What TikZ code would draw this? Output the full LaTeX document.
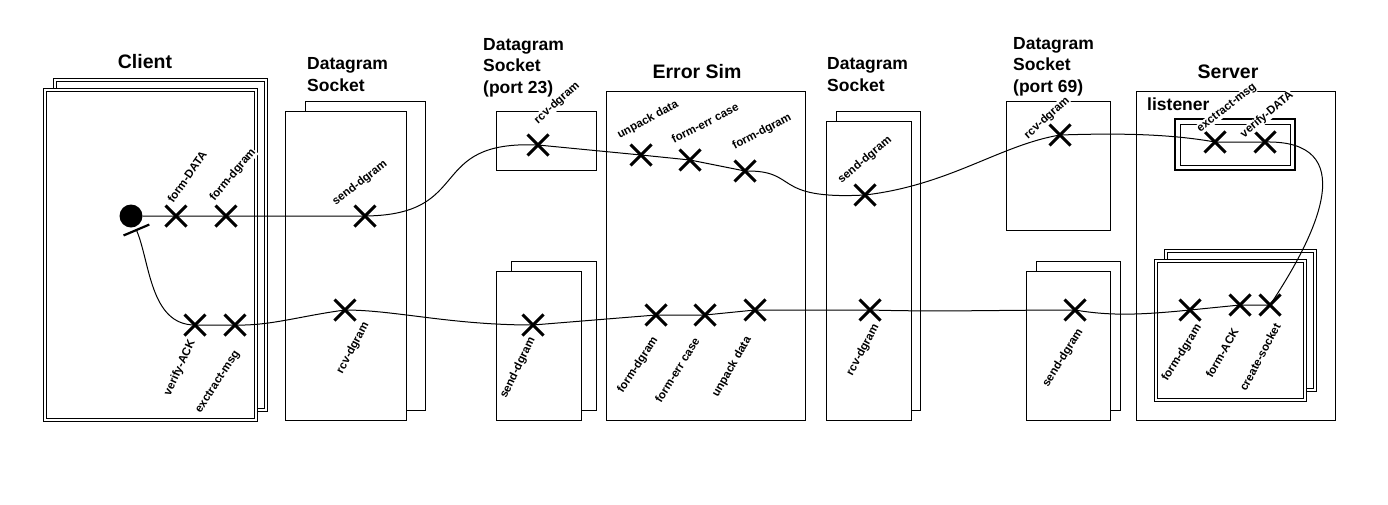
\documentclass[tikz,border=0pt]{standalone}
\usepackage{fontspec}
\setmainfont{Liberation Sans}
\usetikzlibrary{shapes.misc,arrows.meta,positioning}

\begin{document}
\begin{tikzpicture} [
      x = 1pt, y = -1pt,
      box/.style = { draw, line width = 1pt, fill = white },
      dframe/.style = { draw, double, double distance = 1.6pt, line width = 0.8pt, fill = white },
      xmark/.style = { draw, cross out, line width = 3pt, minimum size = 18pt, inner sep = 0 },
      lbl/.style = { font = \fontsize{11.5}{13}\selectfont\bfseries, fill = white, inner sep = 0.5pt },
      ttl/.style = { font = \fontsize{19.5}{23}\selectfont\bfseries, inner sep = 0, anchor = base },
      sttl/.style = { font = \fontsize{17.5}{21.5}\selectfont\bfseries, inner sep = 0, align = left, anchor = base west },
      flow/.style = { line width = 1pt }
      ]

      \fill[white] (0,0) rectangle (1388,504);
      \useasboundingbox (0,0) rectangle (1388,504);

      % frames
      \draw[dframe] (55,80) rectangle (266,410);
      \draw[dframe] (45,90) rectangle (256,420);
      \draw[box] (305,101) rectangle (425,410);
      \draw[box] (285,111) rectangle (406,420);
      \draw[box] (496,111) rectangle (596,170);
      \draw[box] (511,261) rectangle (596,410);
      \draw[box] (496,271) rectangle (581,420);
      \draw[box] (606,91) rectangle (805,420);
      \draw[box] (836,111) rectangle (920,410);
      \draw[box] (826,121) rectangle (911,420);
      \draw[box] (1006,101) rectangle (1110,230);
      \draw[box] (1036,261) rectangle (1120,410);
      \draw[box] (1026,271) rectangle (1110,420);
      \draw[box] (1136,91) rectangle (1335,420);
      \draw[box, line width = 1.8pt] (1175,119) rectangle (1295,170);
      \draw[line width = 1pt] (1180,124) rectangle (1290,165);
      \draw[dframe] (1166,251) rectangle (1315,390);
      \draw[dframe] (1156,261) rectangle (1305,400);

      % titles
      \node[ttl] (tcli) at (145,68) {Client};
      \node[sttl] (tds1) at (307,91) {Datagram\\Socket};
      \node[sttl] (tds23) at (483,93) {Datagram\\Socket\\(port 23)};
      \node[ttl] (tes) at (697,78) {Error Sim};
      \node[sttl] (tds2) at (827,91) {Datagram\\Socket};
      \node[sttl] (tds69) at (1013,92) {Datagram\\Socket\\(port 69)};
      \node[ttl] (tsrv) at (1228,78) {Server};
      \node[sttl] (tlis) at (1147,110) {listener};

      % start
      \node[circle, fill = black, minimum size = 23pt, inner sep = 0] (dot) at (131,216) {};
      \coordinate (cbar) at (136,229);

      % client
      \node[xmark] (cfd) at (176,216) {};
      \node[xmark] (cfg) at (226,216) {};
      \node[xmark] (cva) at (195,325) {};
      \node[xmark] (cex) at (235,325) {};
      % sockets
      \node[xmark] (s1snd) at (365,216) {};
      \node[xmark] (s1rcv) at (345,310) {};
      \node[xmark] (p23rcv) at (538,145) {};
      \node[xmark] (p23snd) at (533,325) {};
      % error sim
      \node[xmark] (esun) at (641,155) {};
      \node[xmark] (eserr) at (690,160) {};
      \node[xmark] (esfd) at (745,171) {};
      \node[xmark] (esfd2) at (656,315) {};
      \node[xmark] (eserr2) at (705,315) {};
      \node[xmark] (esun2) at (755,310) {};
      \node[xmark] (msnd) at (865,195) {};
      \node[xmark] (mrcv) at (870,310) {};
      \node[xmark] (p69rcv) at (1060,135) {};
      \node[xmark] (p69snd) at (1075,310) {};
      % server
      \node[xmark] (lex) at (1215,142) {};
      \node[xmark] (lvd) at (1265,142) {};
      \node[xmark] (sfd) at (1190,310) {};
      \node[xmark] (sack) at (1240,305) {};
      \node[xmark] (scr) at (1270,305) {};

      % request
      \draw[flow] (dot.east) -- (cfd.center) -- (cfg.center) -- (s1snd.center)
        .. controls (475,215) and (425,140) .. (p23rcv.center)
        -- (esun.center) -- (eserr.center) -- (esfd.center)
        .. controls (800,170) and (770,200) .. (msnd.center)
        .. controls (950,185) and (1000,145) .. (p69rcv.center)
        .. controls (1120,133) and (1170,134) .. (lex.center) -- (lvd.center)
        .. controls (1360,140) and (1320,230) .. (scr.center);
      % reply
      \draw[flow, -{Bar[width = 28pt, line width = 2.2pt]}] (scr.center) -- (sack.center) -- (sfd.center)
        .. controls (1140,315) and (1110,316) .. (p69snd.center)
        .. controls (1000,310) and (940,312) .. (mrcv.center)
        -- (esun2.center) -- (eserr2.center) -- (esfd2.center) -- (p23snd.center)
        .. controls (450,325) and (395,310) .. (s1rcv.center)
        .. controls (300,316) and (270,326) .. (cex.center) -- (cva.center)
        .. controls (150,325) and (150,262) .. (cbar);

      % labels
      \node[lbl, rotate = 55] (lcfd) at (187,177) {form-DATA};
      \node[lbl, rotate = 50] (lcfg) at (233,175) {form-dgram};
      \node[lbl, rotate = 65] (lcva) at (180,368) {verify-ACK};
      \node[lbl, rotate = 57] (lcex) at (218,382) {exctract-msg};
      \node[lbl, rotate = 38] (ls1snd) at (360,183) {send-dgram};
      \node[lbl, rotate = 62] (ls1rcv) at (353,348) {rcv-dgram};
      \node[lbl, rotate = 42] (lp23rcv) at (557,103) {rcv-dgram};
      \node[lbl, rotate = 64] (lp23snd) at (518,368) {send-dgram};
      \node[lbl, rotate = 28] (lesun) at (648,120) {unpack data};
      \node[lbl, rotate = 27] (leserr) at (705,123) {form-err case};
      \node[lbl, rotate = 28] (lesfd) at (762,132) {form-dgram};
      \node[lbl, rotate = 57] (lesfd2) at (638,365) {form-dgram};
      \node[lbl, rotate = 58] (leserr2) at (677,370) {form-err case};
      \node[lbl, rotate = 60] (lesun2) at (732,367) {unpack data};
      \node[lbl, rotate = 40] (lmsnd) at (865,160) {send-dgram};
      \node[lbl, rotate = 62] (lmrcv) at (863,350) {rcv-dgram};
      \node[lbl, rotate = 42] (lp69rcv) at (1047,118) {rcv-dgram};
      \node[lbl, rotate = 58] (lp69snd) at (1063,358) {send-dgram};
      \node[lbl, rotate = 38] (llex) at (1227,108) {exctract-msg};
      \node[lbl, rotate = 40] (llvd) at (1267,115) {verify-DATA};
      \node[lbl, rotate = 58] (lsfd) at (1182,353) {form-dgram};
      \node[lbl, rotate = 60] (lsack) at (1222,353) {form-ACK};
      \node[lbl, rotate = 62] (lscr) at (1260,357) {create-socket};
\end{tikzpicture}
\end{document}
